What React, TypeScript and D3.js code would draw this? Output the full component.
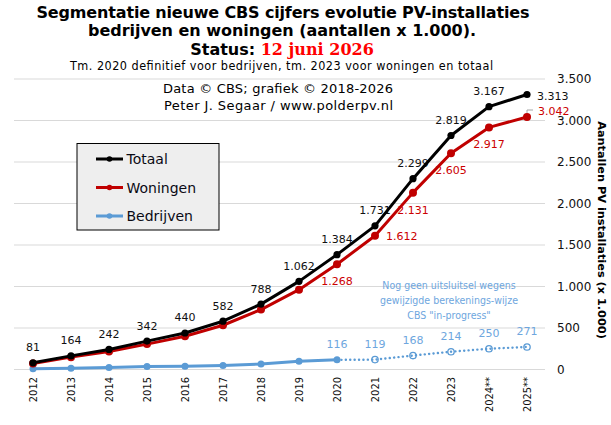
import React from "react";
import * as d3 from "d3";

const years = ["2012", "2013", "2014", "2015", "2016", "2017", "2018", "2019", "2020", "2021", "2022", "2023", "2024**", "2025**"];
const totaal = [81, 164, 242, 342, 440, 582, 788, 1062, 1384, 1731, 2299, 2819, 3167, 3313];
const woningen = [71, 149, 218, 306, 400, 533, 722, 962, 1268, 1612, 2131, 2605, 2917, 3042];
const bedrijven = [10, 15, 24, 36, 40, 49, 66, 100, 116, 119, 168, 214, 250, 271];
const yTicks = [0, 500, 1000, 1500, 2000, 2500, 3000, 3500];
const legendItems = ["Totaal", "Woningen", "Bedrijven"];
const noteLines = ["Nog geen uitsluitsel wegens", "gewijzigde berekenings-wijze", 'CBS "in-progress"'];

const W = 611;
const H = 425;
const SANS = "'DejaVu Sans', Verdana, sans-serif";
const COND = "'DejaVu Sans Condensed', 'DejaVu Sans', sans-serif";
const SERIF = "'DejaVu Serif', serif";
const C_TOT = "#000000";
const C_WON = "#c00000";
const C_WON_L = "#cc0000";
const C_BED = "#5b9bd5";
const C_BED_L = "#6ea6de";

// label placement (style, not data)
const wonPlace: Record<number, string> = { 8: "below", 9: "right", 10: "below", 11: "below", 12: "below", 13: "leader" };

export default function App() {
  const x = d3.scaleBand<string>().domain(years).range([14, 546]).padding(0);
  const cx = (i: number) => (x(years[i]) as number) + x.bandwidth() / 2;
  const y = d3.scaleLinear().domain([0, 3500]).range([369.5, 79]);
  const fmt = (v: number) => d3.format(",")(v).replace(/,/g, ".");
  const line = d3.line<[number, number]>().x((d) => d[0]).y((d) => d[1]);

  const pts = (arr: number[], from = 0, to = arr.length - 1) =>
    arr.map((v, i) => [cx(i), y(v)] as [number, number]).slice(from, to + 1);

  const totPts = pts(totaal);
  const wonPts = pts(woningen);
  const bedSolid = pts(bedrijven, 0, 8);
  const bedDot = pts(bedrijven, 8, 13);

  const last = years.length - 1;

  return (
    <div style={{ position: "absolute", left: 0, top: 0 }}>
      <svg width={W} height={H} viewBox={`0 0 ${W} ${H}`} style={{ display: "block", background: "#fff" }}>
        {/* Titles */}
        <text x={283} y={18.3} textAnchor="middle" fontFamily={SANS} fontWeight="bold" fontSize={16} textLength={493} lengthAdjust="spacing">
          Segmentatie nieuwe CBS cijfers evolutie PV-installaties
        </text>
        <text x={282} y={36} textAnchor="middle" fontFamily={SANS} fontWeight="bold" fontSize={16} textLength={388} lengthAdjust="spacing">
          bedrijven en woningen (aantallen x 1.000).
        </text>
        <text x={282} y={54.5} textAnchor="middle" fontSize={16} fontWeight="bold">
          <tspan fontFamily={SANS} fill="#000">Status: </tspan>
          <tspan fontFamily={SERIF} fill="#ff0000">12 juni 2026</tspan>
        </text>
        <text x={281.5} y={70} textAnchor="middle" fontFamily={COND} fontSize={12.5} textLength={423} lengthAdjust="spacing">
          Tm. 2020 definitief voor bedrijven, tm. 2023 voor woningen en totaal
        </text>

        {/* Gridlines */}
        {yTicks.map((t) => (
          <line key={t} x1={14} x2={545} y1={y(t)} y2={y(t)} stroke="#d9d9d9" strokeWidth={1} />
        ))}

        <text x={278} y={93} textAnchor="middle" fontFamily={SANS} fontSize={13} textLength={230} lengthAdjust="spacing">
          Data © CBS; grafiek © 2018-2026
        </text>
        <text x={278.5} y={110} textAnchor="middle" fontFamily={SANS} fontSize={13} textLength={229} lengthAdjust="spacing">
          Peter J. Segaar / www.polderpv.nl
        </text>

        {/* Y axis labels */}
        {yTicks.map((t) => (
          <text key={t} x={557} y={y(t)} dominantBaseline="central" fontFamily={SANS} fontSize={12} fill="#111">
            {fmt(t)}
          </text>
        ))}
        <text
          transform={`translate(601.5,230) rotate(90)`}
          textAnchor="middle"
          dominantBaseline="central"
          fontFamily={SANS}
          fontWeight="bold"
          fontSize={11.3}
        >
          Aantallen PV installaties (x 1.000)
        </text>

        {/* X axis labels */}
        {years.map((yr, i) => (
          <text
            key={yr}
            transform={`translate(${cx(i)},377) rotate(-90)`}
            textAnchor="end"
            dominantBaseline="central"
            fontFamily={COND}
            fontSize={11}
            fill="#111"
          >
            {yr}
          </text>
        ))}

        {/* Data labels (under lines) */}
        {totaal.map((v, i) =>
          i === last ? (
            <text key={i} x={cx(i) + 10} y={y(v) + 1.5} dominantBaseline="central" fontFamily={SANS} fontSize={11} fill="#111">
              {fmt(v)}
            </text>
          ) : (
            <text key={i} x={cx(i)} y={y(v) - 15} textAnchor="middle" dominantBaseline="central" fontFamily={SANS} fontSize={11} fill="#111">
              {fmt(v)}
            </text>
          )
        )}
        {woningen.map((v, i) => {
          const p = wonPlace[i];
          if (!p) return null;
          if (p === "below")
            return (
              <text key={i} x={cx(i)} y={y(v) + 17.5} textAnchor="middle" dominantBaseline="central" fontFamily={SANS} fontSize={11} fill={C_WON_L}>
                {fmt(v)}
              </text>
            );
          if (p === "right")
            return (
              <text key={i} x={cx(i) + 11} y={y(v) + 1} dominantBaseline="central" fontFamily={SANS} fontSize={11} fill={C_WON_L}>
                {fmt(v)}
              </text>
            );
          return (
            <g key={i}>
              <path d={`M${cx(i)},${y(v) - 4}V${y(v) - 7}H${cx(i) + 6}`} fill="none" stroke="#a6a6a6" strokeWidth={1} />
              <text x={cx(i) + 11} y={y(v) - 6} dominantBaseline="central" fontFamily={SANS} fontSize={11} fill={C_WON_L}>
                {fmt(v)}
              </text>
            </g>
          );
        })}
        {bedrijven.map((v, i) =>
          i >= 8 ? (
            <text key={i} x={cx(i)} y={y(v) - 15.5} textAnchor="middle" dominantBaseline="central" fontFamily={SANS} fontSize={11} fill={C_BED_L}>
              {fmt(v)}
            </text>
          ) : null
        )}

        {/* Note */}
        {noteLines.map((t, k) => (
          <text key={k} x={449} y={285 + k * 15} textAnchor="middle" dominantBaseline="central" fontFamily={COND} fontSize={10.5} fill={C_BED_L}>
            {t}
          </text>
        ))}

        {/* Lines */}
        <path d={line(bedSolid) as string} fill="none" stroke={C_BED} strokeWidth={3} strokeLinejoin="round" />
        <path d={line(bedDot) as string} fill="none" stroke={C_BED} strokeWidth={2.4} strokeDasharray="0.1 4.3" strokeLinecap="round" />
        {bedSolid.map((p, i) => (
          <circle key={i} cx={p[0]} cy={p[1]} r={3.5} fill={C_BED} />
        ))}
        {bedDot.slice(1).map((p, i) => (
          <circle key={i} cx={p[0]} cy={p[1]} r={3.2} fill="none" stroke={C_BED} strokeWidth={1.3} />
        ))}

        <path d={line(wonPts) as string} fill="none" stroke={C_WON} strokeWidth={3} strokeLinejoin="round" />
        {wonPts.map((p, i) => (
          <circle key={i} cx={p[0]} cy={p[1]} r={4} fill={C_WON} />
        ))}
        <path d={line(totPts) as string} fill="none" stroke={C_TOT} strokeWidth={3} strokeLinejoin="round" />
        {totPts.map((p, i) => (
          <circle key={i} cx={p[0]} cy={p[1]} r={3.6} fill={C_TOT} />
        ))}

        {/* Legend */}
        <rect x={77} y={143.5} width={142} height={86.5} fill="#eeeeee" stroke="#000" strokeWidth={1} />
        {legendItems.map((name, k) => {
          const ly = 159 + k * 28.5;
          const col = [C_TOT, C_WON, C_BED][k];
          return (
            <g key={name}>
              <line x1={96} x2={123} y1={ly} y2={ly} stroke={col} strokeWidth={3} />
              <circle cx={109.5} cy={ly} r={2.8} fill={col} />
              <text x={126.5} y={ly} dominantBaseline="central" fontFamily={SANS} fontSize={14} fill="#0a0a14">
                {name}
              </text>
            </g>
          );
        })}
      </svg>
    </div>
  );
}
